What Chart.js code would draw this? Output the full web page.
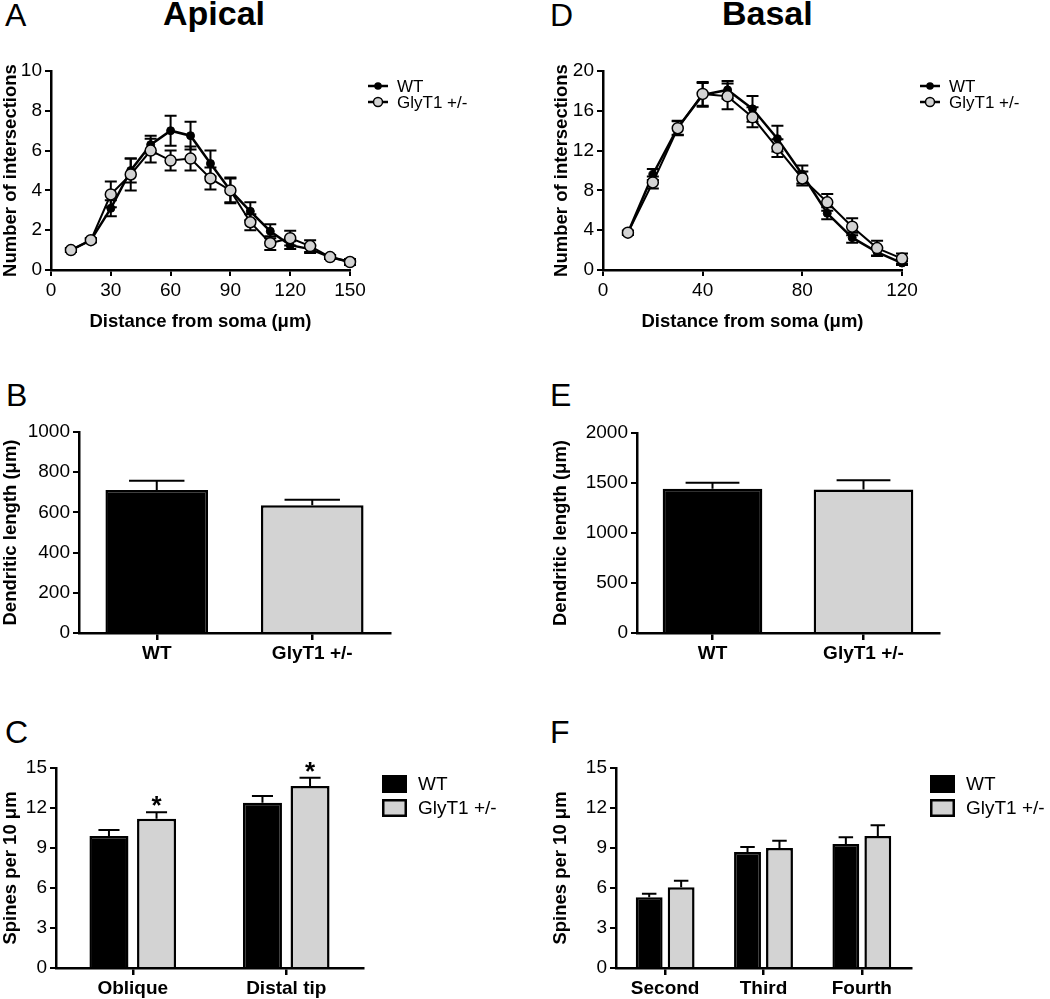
<!DOCTYPE html>
<html>
<head>
<meta charset="utf-8">
<script src="https://cdn.jsdelivr.net/npm/chart.js@4"></script>
<style>
  body { margin: 0; background: #fff; }
  #page { position: relative; width: 1050px; height: 999px; overflow: hidden; font-family: 'Liberation Sans', Arial, sans-serif; }
  canvas { position: absolute; }
  .letter { position: absolute; font-size: 32px; line-height: 32px; color: #000; }
  .title { position: absolute; font-size: 34px; line-height: 34px; font-weight: bold; color: #000; }
</style>
</head>
<body>
<div id="page">
  <div class="letter" style="left:5px;top:-1px">A</div>
  <div class="letter" style="left:550px;top:-1px">D</div>
  <div class="letter" style="left:6px;top:379px">B</div>
  <div class="letter" style="left:550px;top:379px">E</div>
  <div class="letter" style="left:5px;top:716px">C</div>
  <div class="letter" style="left:550px;top:716px">F</div>
  <div class="title" style="left:163px;top:-4px">Apical</div>
  <div class="title" style="left:722px;top:-4px">Basal</div>

  <canvas id="chartA" width="520" height="300" style="left:0;top:50px"></canvas>
  <canvas id="chartD" width="499" height="300" style="left:551px;top:50px"></canvas>
  <canvas id="chartB" width="520" height="290" style="left:0;top:380px"></canvas>
  <canvas id="chartE" width="500" height="290" style="left:550px;top:380px"></canvas>
  <canvas id="chartC" width="520" height="299" style="left:0;top:700px"></canvas>
  <canvas id="chartF" width="500" height="299" style="left:550px;top:700px"></canvas>
</div>
<script>
// Sholl analysis, apical (A)
const apicalDist = [10, 20, 30, 40, 50, 60, 70, 80, 90, 100, 110, 120, 130, 140, 150];
const apicalWT = [1.0, 1.5, 3.1, 5.0, 6.3, 7.0, 6.75, 5.35, 4.0, 2.95, 1.95, 1.25, 1.05, 0.65, 0.4];
const apicalWTErr = [0.1, 0.1, 0.4, 0.6, 0.45, 0.75, 0.7, 0.65, 0.65, 0.45, 0.35, 0.2, 0.2, 0.1, 0.1];
const apicalGly = [1.0, 1.5, 3.8, 4.8, 6.0, 5.5, 5.6, 4.6, 4.0, 2.4, 1.35, 1.6, 1.2, 0.65, 0.4];
const apicalGlyErr = [0.1, 0.1, 0.65, 0.8, 0.6, 0.5, 0.6, 0.55, 0.6, 0.4, 0.35, 0.37, 0.3, 0.1, 0.15];

// Sholl analysis, basal (D)
const basalDist = [10, 20, 30, 40, 50, 60, 70, 80, 90, 100, 110, 120];
const basalWT = [3.75, 9.6, 14.3, 17.6, 18.1, 16.2, 13.2, 9.6, 5.7, 3.25, 1.8, 0.7];
const basalWTErr = [0.2, 0.55, 0.7, 1.2, 0.9, 1.3, 1.3, 0.9, 0.6, 0.5, 0.4, 0.2];
const basalGly = [3.75, 8.8, 14.25, 17.7, 17.45, 15.35, 12.25, 9.2, 6.8, 4.35, 2.2, 1.15];
const basalGlyErr = [0.2, 0.6, 0.7, 1.2, 1.3, 1.0, 0.9, 0.7, 0.85, 0.85, 0.75, 0.5];

// Dendritic length (B, E)
const genotypes = ['WT', 'GlyT1 +/-'];
const apicalLength = [712, 635];
const apicalLengthErr = [45, 28];
const basalLength = [1442, 1435];
const basalLengthErr = [60, 92];

// Spine density (C, F)
const apicalBranches = ['Oblique', 'Distal tip'];
const apicalSpinesWT = [9.9, 12.4];
const apicalSpinesWTErr = [0.45, 0.5];
const apicalSpinesGly = [11.2, 13.65];
const apicalSpinesGlyErr = [0.48, 0.62];
const apicalSpinesSig = ['*', '*'];
const basalOrders = ['Second', 'Third', 'Fourth'];
const basalSpinesWT = [5.3, 8.7, 9.3];
const basalSpinesWTErr = [0.27, 0.37, 0.5];
const basalSpinesGly = [6.05, 9.0, 9.9];
const basalSpinesGlyErr = [0.5, 0.55, 0.8];

const FONT = "'Liberation Sans', Arial, sans-serif";
const GREY = '#d3d3d3';
Chart.defaults.font.family = FONT;
Chart.defaults.color = '#000';

// error bars: 'both' for the line plots (under the markers), 'up' for bars
function drawErrors(chart, mode, cap) {
    const ctx = chart.ctx;
    const yScale = chart.scales.y;
    ctx.save();
    ctx.strokeStyle = '#000';
    ctx.lineWidth = 2;
    chart.data.datasets.forEach((ds, di) => {
        if (!ds.errors) return;
        const meta = chart.getDatasetMeta(di);
        meta.data.forEach((el, i) => {
            const raw = ds.data[i];
            const val = typeof raw === 'object' ? raw.y : raw;
            const err = ds.errors[i];
            const top = yScale.getPixelForValue(val + err);
            const bottom = mode === 'up' ? el.y : yScale.getPixelForValue(val - err);
            const half = mode === 'up' ? el.width * 0.27 : cap;
            ctx.beginPath();
            ctx.moveTo(el.x, top);
            ctx.lineTo(el.x, bottom);
            ctx.moveTo(el.x - half, top);
            ctx.lineTo(el.x + half, top);
            if (mode === 'both') {
                ctx.moveTo(el.x - half, bottom);
                ctx.lineTo(el.x + half, bottom);
            }
            ctx.stroke();
            if (ds.marks && ds.marks[i]) {
                ctx.fillStyle = '#000';
                ctx.font = 'bold 26px ' + FONT;
                ctx.textAlign = 'center';
                ctx.textBaseline = 'alphabetic';
                ctx.fillText(ds.marks[i], el.x, top + 2);
            }
        });
    });
    ctx.restore();
}

const errorBars = {
    id: 'errorBars',
    beforeDatasetsDraw(chart, args, opts) {
        if (opts.mode === 'both') drawErrors(chart, 'both', opts.cap || 6);
    },
    afterDatasetsDraw(chart, args, opts) {
        if (opts.mode === 'up') drawErrors(chart, 'up');
    }
};

const sideLegend = {
    id: 'sideLegend',
    afterDraw(chart, args, opts) {
        if (!opts.kind) return;
        const ctx = chart.ctx;
        const area = chart.chartArea;
        ctx.save();
        chart.data.datasets.forEach((ds, i) => {
            if (opts.kind === 'line') {
                const y = area.top + 15 + 16 * i;
                const x0 = area.right + 18;
                ctx.strokeStyle = '#000';
                ctx.lineWidth = 2.5;
                ctx.beginPath();
                ctx.moveTo(x0, y);
                ctx.lineTo(x0 + 20, y);
                ctx.stroke();
                ctx.beginPath();
                ctx.arc(x0 + 10, y, ds.pointRadius - 1, 0, Math.PI * 2);
                ctx.fillStyle = ds.pointBackgroundColor;
                ctx.fill();
                ctx.lineWidth = 1.5;
                ctx.stroke();
                ctx.fillStyle = '#000';
                ctx.font = '17px ' + FONT;
                ctx.textAlign = 'left';
                ctx.textBaseline = 'middle';
                ctx.fillText(ds.label, area.right + 47, y + 1);
            } else {
                const y = area.top + 16 + 24 * i;
                const x0 = area.right + 19;
                ctx.fillStyle = ds.backgroundColor;
                ctx.fillRect(x0, y - 9, 25, 18);
                ctx.strokeStyle = '#000';
                ctx.lineWidth = 2.5;
                ctx.strokeRect(x0 + 1.25, y - 7.75, 22.5, 15.5);
                ctx.fillStyle = '#000';
                ctx.font = '19px ' + FONT;
                ctx.textAlign = 'left';
                ctx.textBaseline = 'middle';
                ctx.fillText(ds.label, area.right + 55, y + 1);
            }
        });
        ctx.restore();
    }
};

Chart.register(errorBars, sideLegend);

function axisY(max, step, title, width) {
    return {
        min: 0, max: max,
        afterFit: s => { s.width = width; },
        ticks: { stepSize: step, font: { size: 19 }, color: '#000', padding: 3, callback: v => String(v) },
        grid: { display: true, drawOnChartArea: false, drawTicks: true, tickLength: 6, color: '#000', lineWidth: 2 },
        border: { display: true, color: '#000', width: 2.5 },
        title: { display: true, text: title, font: { size: 18.5, weight: 'bold' }, color: '#000', padding: { top: 0, bottom: 0 } }
    };
}

function lineChart(id, dist, wt, wtErr, gly, glyErr, xMax, xStep, yMax, yStep, yWidth, padRight) {
    const wtPoints = dist.map((d, i) => ({ x: d, y: wt[i] }));
    const glyPoints = dist.map((d, i) => ({ x: d, y: gly[i] }));
    return new Chart(document.getElementById(id), {
        type: 'line',
        data: {
            datasets: [
                {
                    label: 'WT', data: wtPoints, errors: wtErr, order: 1, clip: false,
                    borderColor: '#000', borderWidth: 2.5, pointRadius: 4,
                    pointBackgroundColor: '#000', pointBorderColor: '#000', pointBorderWidth: 1
                },
                {
                    label: 'GlyT1 +/-', data: glyPoints, errors: glyErr, order: 0, clip: false,
                    borderColor: '#000', borderWidth: 2, pointRadius: 5.5,
                    pointBackgroundColor: GREY, pointBorderColor: '#000', pointBorderWidth: 1.5
                }
            ]
        },
        options: {
            responsive: false,
            animation: false,
            devicePixelRatio: 1,
            layout: { padding: { left: 0, top: 21, right: padRight, bottom: 0 } },
            plugins: {
                legend: { display: false },
                tooltip: { enabled: false },
                errorBars: { mode: 'both', cap: 6 },
                sideLegend: { kind: 'line' }
            },
            scales: {
                x: {
                    type: 'linear', min: 0, max: xMax,
                    afterFit: s => { s.height = 80; },
                    ticks: { stepSize: xStep, font: { size: 19 }, color: '#000', padding: 3 },
                    grid: { display: true, drawOnChartArea: false, drawTicks: true, tickLength: 6, color: '#000', lineWidth: 2 },
                    border: { display: true, color: '#000', width: 2.5 },
                    title: { display: true, text: 'Distance from soma (μm)', font: { size: 18.5, weight: 'bold' }, color: '#000', padding: { top: 0, bottom: 17 } }
                },
                y: axisY(yMax, yStep, 'Number of intersections', yWidth)
            }
        }
    });
}

function barChart(id, labels, datasets, opts) {
    return new Chart(document.getElementById(id), {
        type: 'bar',
        data: { labels: labels, datasets: datasets },
        options: {
            responsive: false,
            animation: false,
            devicePixelRatio: 1,
            categoryPercentage: opts.cat,
            barPercentage: opts.bar,
            layout: { padding: { left: 0, top: opts.padTop, right: opts.padRight, bottom: 0 } },
            plugins: {
                legend: { display: false },
                tooltip: { enabled: false },
                errorBars: { mode: 'up' },
                sideLegend: { kind: opts.legend ? 'box' : null }
            },
            scales: {
                x: {
                    afterFit: s => { s.height = opts.xHeight; },
                    ticks: { font: { size: 19, weight: 'bold' }, color: '#000', padding: 2 },
                    grid: { display: true, offset: false, drawOnChartArea: false, drawTicks: true, tickLength: 7, color: '#000', lineWidth: 2.5 },
                    border: { display: true, color: '#000', width: 2.5 }
                },
                y: axisY(opts.yMax, opts.yStep, opts.yTitle, opts.yWidth)
            }
        }
    });
}

lineChart('chartA', apicalDist, apicalWT, apicalWTErr, apicalGly, apicalGlyErr, 150, 30, 10, 2, 51, 170);
lineChart('chartD', basalDist, basalWT, basalWTErr, basalGly, basalGlyErr, 120, 40, 20, 4, 52, 148);

barChart('chartB', genotypes, [{
    label: 'Dendritic length', data: apicalLength, errors: apicalLengthErr,
    backgroundColor: ['#000', GREY], borderColor: '#000', borderWidth: 2.5
}], { cat: 1, bar: 0.66, padTop: 52, padRight: 130, xHeight: 37, yMax: 1000, yStep: 200, yTitle: 'Dendritic length (μm)', yWidth: 79 });

barChart('chartE', genotypes, [{
    label: 'Dendritic length', data: basalLength, errors: basalLengthErr,
    backgroundColor: ['#000', GREY], borderColor: '#000', borderWidth: 2.5
}], { cat: 1, bar: 0.66, padTop: 53, padRight: 111, xHeight: 37, yMax: 2000, yStep: 500, yTitle: 'Dendritic length (μm)', yWidth: 87 });

barChart('chartC', apicalBranches, [
    { label: 'WT', data: apicalSpinesWT, errors: apicalSpinesWTErr, backgroundColor: '#000', borderColor: '#000', borderWidth: 2.5 },
    { label: 'GlyT1 +/-', data: apicalSpinesGly, errors: apicalSpinesGlyErr, marks: apicalSpinesSig, backgroundColor: GREY, borderColor: '#000', borderWidth: 2.5 }
], { cat: 0.62, bar: 0.82, padTop: 68, padRight: 157, xHeight: 31, yMax: 15, yStep: 3, yTitle: 'Spines per 10 μm', yWidth: 56, legend: true });

barChart('chartF', basalOrders, [
    { label: 'WT', data: basalSpinesWT, errors: basalSpinesWTErr, backgroundColor: '#000', borderColor: '#000', borderWidth: 2.5 },
    { label: 'GlyT1 +/-', data: basalSpinesGly, errors: basalSpinesGlyErr, backgroundColor: GREY, borderColor: '#000', borderWidth: 2.5 }
], { cat: 0.65, bar: 0.84, padTop: 68, padRight: 139, xHeight: 31, yMax: 15, yStep: 3, yTitle: 'Spines per 10 μm', yWidth: 66, legend: true });
</script>
</body>
</html>
